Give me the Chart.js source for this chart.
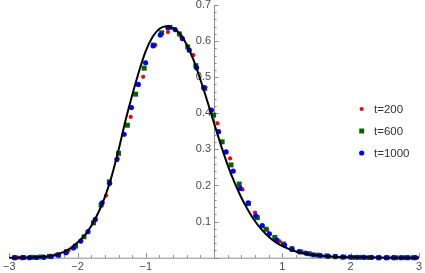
<!DOCTYPE html>
<html><head><meta charset="utf-8">
<script src="https://cdn.jsdelivr.net/npm/chart.js@4"></script>
<style>html,body{margin:0;padding:0;background:#fff;} #wrap{width:425px;height:273px;position:relative;}</style>
</head><body><div id="wrap"><canvas id="c" width="425" height="273"></canvas></div>
<script>
// ---- data ----
const xTickValues = [-3, -2, -1, 0, 1, 2, 3];
const xTickLabels = ['−3', '−2', '−1', '', '1', '2', '3'];
const yTickValues = [0.1, 0.2, 0.3, 0.4, 0.5, 0.6, 0.7];
const yTickLabels = ['0.1', '0.2', '0.3', '0.4', '0.5', '0.6', '0.7'];
const seriesNames = ['t=200', 't=600', 't=1000'];

const curveX = [-3, -2.8, -2.6, -2.5, -2.4, -2.3, -2.2, -2.1, -2.0, -1.9, -1.8, -1.7, -1.6, -1.5, -1.4, -1.3, -1.2, -1.1, -1.0, -0.9, -0.8, -0.7, -0.6, -0.5, -0.4, -0.3, -0.2, -0.1, 0, 0.1, 0.2, 0.3, 0.4, 0.5, 0.6, 0.7, 0.8, 0.9, 1.0, 1.2, 1.4, 1.6, 1.8, 2.0, 2.5, 3.0];
const curveY = [0, 0.0005, 0.0015, 0.0025, 0.005, 0.009, 0.016, 0.027, 0.042, 0.061, 0.088, 0.123, 0.168, 0.226, 0.298, 0.378, 0.450, 0.516, 0.573, 0.612, 0.634, 0.641, 0.636, 0.620, 0.590, 0.547, 0.493, 0.434, 0.372, 0.312, 0.256, 0.208, 0.166, 0.131, 0.101, 0.077, 0.058, 0.043, 0.032, 0.017, 0.009, 0.0045, 0.002, 0.001, 0.0002, 0];

const t200X = [-2.87, -2.68, -2.50, -2.32, -2.13, -1.95, -1.77, -1.582, -1.413, -1.221, -1.038, -0.86, -0.676, -0.49, -0.306, -0.128, 0.05, 0.234, 0.416, 0.60, 0.778, 0.96, 1.145, 1.33, 1.51, 1.69, 1.875, 2.06, 2.24, 2.42, 2.61, 2.79, 2.97];
const t200Y = [0, 0.001, 0.003, 0.008, 0.02, 0.045, 0.095, 0.172, 0.275, 0.39, 0.501, 0.589, 0.625, 0.614, 0.561, 0.472, 0.372, 0.275, 0.189, 0.125, 0.077, 0.045, 0.026, 0.014, 0.008, 0.004, 0.002, 0.001, 0, 0, 0, 0, 0];

const t600X = [-2.92, -2.79, -2.66, -2.54, -2.41, -2.28, -2.16, -2.03, -1.905, -1.766, -1.655, -1.535, -1.40, -1.27, -1.149, -1.024, -0.889, -0.768, -0.648, -0.509, -0.387, -0.267, -0.137, -0.007, 0.118, 0.248, 0.368, 0.503, 0.633, 0.76, 0.889, 1.015, 1.14, 1.27, 1.395, 1.52, 1.65, 1.775, 1.90, 2.03, 2.155, 2.28, 2.41, 2.535, 2.66, 2.79, 2.915];
const t600Y = [0, 0.0005, 0.001, 0.002, 0.004, 0.008, 0.017, 0.032, 0.058, 0.097, 0.146, 0.21, 0.289, 0.367, 0.453, 0.525, 0.589, 0.623, 0.638, 0.62, 0.584, 0.532, 0.469, 0.395, 0.321, 0.257, 0.204, 0.15, 0.111, 0.079, 0.056, 0.038, 0.025, 0.016, 0.011, 0.007, 0.005, 0.003, 0.002, 0.001, 0.001, 0.0005, 0, 0, 0, 0, 0];

const t1000X = [-2.92, -2.81, -2.705, -2.6, -2.49, -2.385, -2.28, -2.17, -2.06, -1.953, -1.847, -1.74, -1.64, -1.53, -1.425, -1.318, -1.211, -1.11, -1.004, -0.893, -0.788, -0.676, -0.571, -0.465, -0.364, -0.257, -0.152, -0.04, 0.065, 0.176, 0.28, 0.383, 0.499, 0.61, 0.705, 0.81, 0.92, 1.033, 1.139, 1.245, 1.35, 1.455, 1.56, 1.67, 1.775, 1.88, 1.99, 2.095, 2.2, 2.31, 2.415, 2.52, 2.63, 2.735, 2.84, 2.945];
const t1000Y = [0, 0, 0, 0.0005, 0.001, 0.003, 0.007, 0.014, 0.027, 0.046, 0.072, 0.106, 0.152, 0.206, 0.272, 0.342, 0.416, 0.48, 0.54, 0.587, 0.617, 0.637, 0.632, 0.607, 0.575, 0.526, 0.471, 0.409, 0.349, 0.293, 0.24, 0.192, 0.152, 0.116, 0.089, 0.066, 0.049, 0.035, 0.023, 0.017, 0.012, 0.008, 0.006, 0.004, 0.003, 0.002, 0.002, 0.001, 0.001, 0.001, 0, 0, 0, 0, 0, 0];

// ---- styles ----
const FONT = '"Liberation Sans", Arial, sans-serif';
const AXIS_COLOR = '#8a8a8a';
const LABEL_COLOR = '#4a4a4a';
const seriesStyles = [
  {color: '#ff0000', pointStyle: 'circle', radius: 2.1},
  {color: '#006400', pointStyle: 'rect', radius: 3.5},
  {color: '#0000ff', pointStyle: 'circle', radius: 2.6}
];

const zip = (xs, ys) => xs.map((x, i) => ({x: x, y: ys[i]}));
const seriesData = [zip(t200X, t200Y), zip(t600X, t600Y), zip(t1000X, t1000Y)];

function scatterSet(i) {
  const s = seriesStyles[i];
  return {
    label: seriesNames[i], data: seriesData[i], showLine: false,
    backgroundColor: s.color, borderColor: s.color, borderWidth: 0,
    pointStyle: s.pointStyle, pointRadius: s.radius, pointBorderWidth: 0,
    pointHoverRadius: s.radius, clip: false
  };
}

const axesPlugin = {
  id: 'mmaAxes',
  beforeDatasetsDraw(chart) {
    const ctx = chart.ctx, xs = chart.scales.x, ys = chart.scales.y;
    const x0 = xs.getPixelForValue(0), yb = ys.getPixelForValue(0), yt = ys.getPixelForValue(0.7);
    const xl = xs.getPixelForValue(-3), xr = xs.getPixelForValue(3);
    ctx.save();
    ctx.strokeStyle = AXIS_COLOR; ctx.lineWidth = 1;
    ctx.beginPath();
    ctx.moveTo(xl, yb + 0.5); ctx.lineTo(xr, yb + 0.5);
    ctx.moveTo(Math.round(x0) + 0.5, yb); ctx.lineTo(Math.round(x0) + 0.5, yt);
    for (let k = -15; k <= 15; k++) {
      const v = k / 5, px = Math.round(xs.getPixelForValue(v)) + 0.5;
      const len = (k % 5 === 0) ? 4.5 : 2.5;
      ctx.moveTo(px, yb); ctx.lineTo(px, yb - len);
    }
    for (let k = 0; k <= 35; k++) {
      const v = k / 50, py = Math.round(ys.getPixelForValue(v)) + 0.5;
      const len = (k % 5 === 0) ? 4.5 : 2.5;
      ctx.moveTo(x0, py); ctx.lineTo(x0 + len, py);
    }
    ctx.stroke();
    ctx.fillStyle = LABEL_COLOR; ctx.font = '11px ' + FONT;
    ctx.textAlign = 'right'; ctx.textBaseline = 'middle';
    yTickValues.forEach((v, i) => ctx.fillText(yTickLabels[i], x0 - 3, ys.getPixelForValue(v)));
    ctx.restore();
  },
  afterDraw(chart) {
    const ctx = chart.ctx;
    ctx.save();
    ctx.font = '11.5px ' + FONT; ctx.textAlign = 'left'; ctx.textBaseline = 'middle';
    seriesNames.forEach((name, i) => {
      const s = seriesStyles[i], cx = 361.7, cy = 109 + 22 * i;
      ctx.fillStyle = s.color;
      ctx.beginPath();
      if (s.pointStyle === 'rect') {
        const h = s.radius * Math.SQRT1_2;
        ctx.rect(cx - h, cy - h, 2 * h, 2 * h);
      } else {
        ctx.arc(cx, cy, s.radius, 0, Math.PI * 2);
      }
      ctx.fill();
      ctx.fillStyle = '#333';
      ctx.fillText(name, 374, cy + 0.5);
    });
    ctx.restore();
  }
};

new Chart(document.getElementById('c'), {
  type: 'scatter',
  data: {
    datasets: [
      {label: 'curve', data: zip(curveX, curveY), showLine: true, borderColor: '#000', borderWidth: 2,
       pointRadius: 0, cubicInterpolationMode: 'monotone', fill: false, clip: false},
      scatterSet(2), scatterSet(1), scatterSet(0)
    ]
  },
  options: {
    responsive: false, animation: false, devicePixelRatio: 1,
    layout: {padding: {left: 7, right: 3, top: 5, bottom: 0}},
    plugins: {legend: {display: false}, tooltip: {enabled: false}},
    scales: {
      x: {
        type: 'linear', min: -3, max: 3,
        grid: {display: false, drawTicks: false},
        border: {display: false},
        afterBuildTicks: (s) => { s.ticks = xTickValues.map(v => ({value: v})); },
        afterFit: (s) => { s.height = 15.3; },
        ticks: {
          autoSkip: false, maxRotation: 0, padding: 3, color: LABEL_COLOR,
          font: {family: FONT, size: 11},
          callback: (v) => xTickLabels[xTickValues.indexOf(v)]
        }
      },
      y: {type: 'linear', min: 0, max: 0.7, display: false}
    }
  },
  plugins: [axesPlugin]
});
</script>
</body></html>
